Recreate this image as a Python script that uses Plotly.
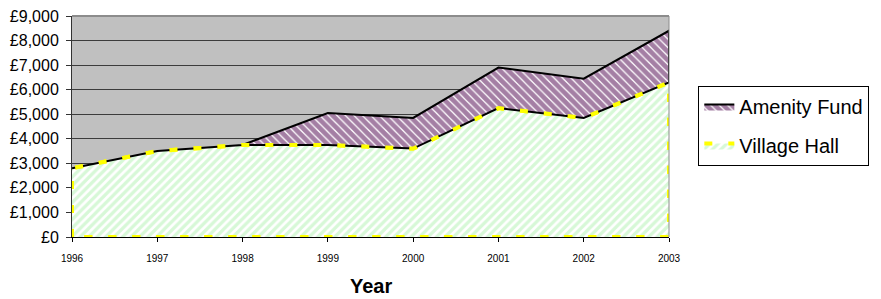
import plotly.graph_objects as go

years = [1996, 1997, 1998, 1999, 2000, 2001, 2002, 2003]
village_hall = [2800, 3500, 3750, 3750, 3600, 5250, 4850, 6300]
amenity_fund = [0, 0, 0, 1300, 1250, 1650, 1600, 2100]
y_ticks = [0, 1000, 2000, 3000, 4000, 5000, 6000, 7000, 8000, 9000]
y_tick_labels = ["£0", "£1,000", "£2,000", "£3,000", "£4,000", "£5,000",
                 "£6,000", "£7,000", "£8,000", "£9,000"]

totals = [v + a for v, a in zip(village_hall, amenity_fund)]

FONT = "Liberation Sans, Arial, sans-serif"
YELLOW = "#FFFF00"

# Village Hall polygon (closed to the x axis)
vh_x = [years[0]] + years + [years[-1], years[0]]
vh_y = [0] + village_hall + [0, 0]

# Amenity polygon (between village hall and total)
am_x = years + years[::-1] + [years[0]]
am_y = totals + village_hall[::-1] + [totals[0]]

fig = go.Figure()

fig.add_trace(go.Scatter(
    x=vh_x, y=vh_y, mode="lines", fill="toself", name="Village Hall",
    legendgroup="vh", fillcolor="white",
    fillpattern=dict(shape="/", fgcolor="#b0f2b0", bgcolor="white", size=6, solidity=0.55),
    line=dict(color=YELLOW, width=4, dash="8px,16px"),
    legendrank=2, hoverinfo="skip",
))
fig.add_trace(go.Scatter(
    x=am_x, y=am_y, mode="lines", fill="toself", name="Amenity Fund",
    legendgroup="am", fillcolor="white",
    fillpattern=dict(shape="\\", fgcolor="#4a004a", bgcolor="white", size=6, solidity=0.8),
    line=dict(color="black", width=2),
    legendrank=1, hoverinfo="skip",
))
fig.add_trace(go.Scatter(
    x=vh_x, y=vh_y, mode="lines", showlegend=False, legendgroup="vh",
    line=dict(color=YELLOW, width=4, dash="8px,16px"),
    hoverinfo="skip",
))

fig.update_layout(
    width=881, height=299,
    margin=dict(l=72, r=207, t=16, b=62),
    paper_bgcolor="white",
    plot_bgcolor="#C0C0C0",
    font=dict(family=FONT, color="black"),
    showlegend=True,
    legend=dict(
        x=(876 - 72) / 602, y=0.683, xanchor="right", yanchor="top",
        bgcolor="white", bordercolor="black", borderwidth=1,
        font=dict(size=20, family=FONT),
        traceorder="grouped",
        tracegroupgap=10,
    ),
    xaxis=dict(
        range=[years[0], years[-1]], automargin=False,
        tickmode="array", tickvals=years, ticktext=[str(y) for y in years],
        tickfont=dict(size=10), ticks="outside", ticklen=4, tickcolor="black",
        ticklabelstandoff=8,
        showgrid=False, zeroline=False, showline=True, linecolor="black", linewidth=1,
    ),
    yaxis=dict(
        range=[0, 9000], automargin=False,
        tickmode="array", tickvals=y_ticks, ticktext=y_tick_labels,
        tickfont=dict(size=16), ticks="outside", ticklen=5, tickcolor="#333333",
        ticklabelstandoff=4,
        showgrid=True, gridcolor="#3c3c3c", gridwidth=1,
        zeroline=False, showline=True, linecolor="#333333", linewidth=1,
    ),
    annotations=[dict(
        text="<b>Year</b>", x=0.5, y=-(286 - 237) / 221, xref="paper", yref="paper",
        xanchor="center", yanchor="middle", showarrow=False,
        font=dict(size=20, family=FONT),
    )],
    shapes=[
        dict(type="line", xref="paper", yref="paper", x0=0, x1=1, y0=1, y1=1,
             line=dict(color="#8c8c8c", width=2), layer="above"),
        dict(type="line", xref="paper", yref="paper", x0=1, x1=1, y0=0, y1=1,
             line=dict(color="#8c8c8c", width=1), layer="above"),
    ],
)

fig.write_html(
    "out.html",
    config={"displayModeBar": False},
    post_script="document.body.style.margin='0';document.body.style.overflow='hidden';",
)
